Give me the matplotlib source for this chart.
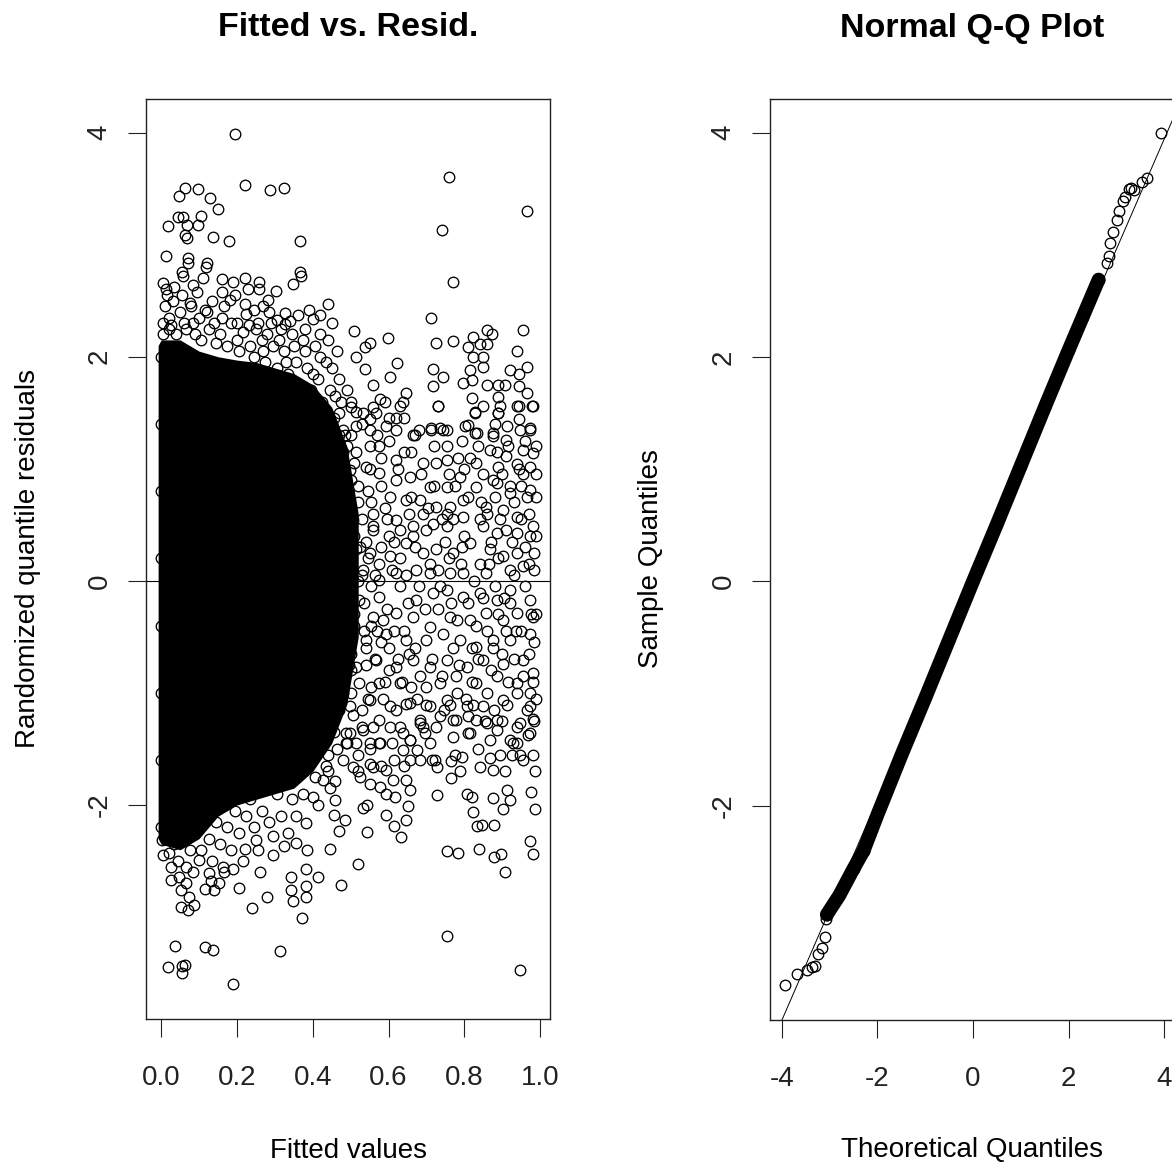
import numpy as np
import matplotlib.pyplot as plt

plt.rcParams['font.family'] = ['Liberation Sans', 'DejaVu Sans']

# ---- Fitted vs. Resid. ----
# envelope of the solid black mass of overlapping circles
core_x = [-0.008, 0.0, 0.05, 0.1, 0.15, 0.2, 0.25, 0.3, 0.35, 0.4, 0.45, 0.49, 0.52]
core_top = [2.1, 2.15, 2.15, 2.05, 2.0, 1.97, 1.95, 1.9, 1.85, 1.75, 1.55, 1.2, 0.6]
core_bot = [-2.3, -2.35, -2.4, -2.3, -2.1, -2.0, -1.95, -1.9, -1.85, -1.7, -1.45, -1.1, -0.5]

# circles above the mass
upper_pts = [
    (0.195, 3.99), (0.760, 3.60), (0.966, 3.30), (0.740, 3.13), (0.769, 2.67), (0.711, 2.35),
    (0.220, 3.53), (0.288, 3.49), (0.323, 3.51), (0.062, 3.51), (0.096, 3.50), (0.047, 3.43),
    (0.130, 3.42), (0.151, 3.32), (0.045, 3.25), (0.057, 3.25), (0.106, 3.26), (0.019, 3.17),
    (0.067, 3.18), (0.097, 3.18), (0.063, 3.09), (0.067, 3.06), (0.136, 3.07), (0.180, 3.03),
    (0.367, 3.03), (0.012, 2.90), (0.071, 2.88), (0.070, 2.84), (0.121, 2.84), (0.117, 2.80),
    (0.366, 2.76), (0.370, 2.72), (0.054, 2.76), (0.057, 2.72), (0.083, 2.64), (0.006, 2.66),
    (0.012, 2.60), (0.160, 2.69), (0.189, 2.67), (0.220, 2.70), (0.259, 2.67), (0.259, 2.60),
    (0.302, 2.59), (0.283, 2.51), (0.347, 2.65), (0.441, 2.47), (0.400, 2.34), (0.418, 2.37),
    (0.327, 2.39), (0.362, 2.37), (0.327, 2.29), (0.181, 2.51), (0.220, 2.47), (0.246, 2.42),
    (0.233, 2.28), (0.305, 2.33), (0.509, 2.23), (0.550, 2.12), (0.598, 2.17), (0.515, 2.00),
    (0.538, 2.09), (0.622, 1.94), (0.603, 1.82), (0.538, 1.89), (0.559, 1.75), (0.647, 1.68),
    (0.637, 1.60), (0.577, 1.62), (0.515, 1.51), (0.550, 1.44), (0.594, 1.38), (0.665, 1.30),
    (0.725, 2.12), (0.769, 2.14), (0.824, 2.18), (0.859, 2.24), (0.872, 2.20), (0.956, 2.24),
    (0.810, 2.09), (0.841, 2.11), (0.859, 2.11), (0.824, 2.00), (0.850, 2.00), (0.940, 2.05),
    (0.718, 1.89), (0.744, 1.82), (0.716, 1.74), (0.731, 1.56), (0.797, 1.77), (0.819, 1.79),
    (0.815, 1.88), (0.850, 1.91), (0.859, 1.75), (0.890, 1.75), (0.907, 1.75), (0.921, 1.88),
    (0.943, 1.85), (0.965, 1.91), (0.943, 1.74), (0.965, 1.68), (0.982, 1.56), (0.943, 1.56),
    (0.819, 1.63), (0.828, 1.51), (0.890, 1.64), (0.894, 1.56), (0.890, 1.50), (0.943, 1.44),
    (0.912, 1.38), (0.876, 1.32), (0.802, 1.38), (0.833, 1.32), (0.735, 1.36), (0.753, 1.35),
    (0.713, 1.36), (0.974, 1.36),
    (0.01, 2.45), (0.02, 2.35), (0.03, 2.50), (0.05, 2.40), (0.08, 2.45), (0.10, 2.35),
    (0.12, 2.40), (0.14, 2.30), (0.16, 2.35), (0.20, 2.30), (0.25, 2.25), (0.28, 2.20),
    (0.31, 2.15), (0.35, 2.10), (0.38, 2.05), (0.42, 2.00), (0.45, 1.90), (0.47, 1.80),
    (0.49, 1.70), (0.44, 2.15), (0.38, 2.25), (0.29, 2.30), (0.02, 2.25), (0.06, 2.30),
    (0.09, 2.20), (0.005, 2.30), (0.20, 2.15), (0.27, 2.05), (0.33, 1.95), (0.40, 1.85),
    (0.46, 1.65), (0.50, 1.55), (0.48, 1.35),
]

# fringe of tightly packed circles round the top of the mass
top_fringe_pts = [
    (0.005, 2.20), (0.015, 2.55), (0.025, 2.28), (0.035, 2.62), (0.040, 2.20), (0.055, 2.55),
    (0.065, 2.25), (0.075, 2.48), (0.085, 2.30), (0.095, 2.58), (0.105, 2.15), (0.115, 2.42),
    (0.125, 2.25), (0.135, 2.50), (0.145, 2.12), (0.155, 2.20), (0.165, 2.45), (0.175, 2.10),
    (0.185, 2.30), (0.195, 2.55), (0.205, 2.05), (0.215, 2.22), (0.225, 2.38), (0.235, 2.10),
    (0.245, 2.00), (0.255, 2.30), (0.265, 2.15), (0.275, 1.95), (0.285, 2.40), (0.295, 2.10),
    (0.305, 1.90), (0.315, 2.25), (0.325, 2.05), (0.335, 1.85), (0.345, 2.20), (0.355, 1.95),
    (0.365, 1.75), (0.375, 2.15), (0.385, 1.90), (0.395, 1.70), (0.405, 2.10), (0.415, 1.80),
    (0.425, 1.60), (0.435, 1.95), (0.445, 1.70), (0.455, 1.45), (0.465, 2.05), (0.475, 1.60),
    (0.485, 1.30), (0.390, 2.42), (0.340, 2.32), (0.270, 2.45), (0.230, 2.60), (0.160, 2.58),
    (0.110, 2.70), (0.450, 2.30), (0.420, 2.20),
]

# fringe of tightly packed circles right of the mass
right_fringe_pts = [
    (0.455, 1.20), (0.470, 0.95), (0.480, 1.15), (0.500, 1.30), (0.510, 1.05), (0.520, 0.85),
    (0.490, 0.65), (0.510, 0.40), (0.500, 0.20), (0.520, 0.00), (0.490, -0.15), (0.510, -0.30),
    (0.490, -0.55), (0.500, -0.80), (0.480, -1.00), (0.470, -1.15), (0.455, -1.35), (0.440, -1.55),
    (0.530, 0.55), (0.545, 0.80), (0.550, 1.00), (0.560, 0.45), (0.545, 0.20), (0.555, -0.05),
    (0.535, -0.20), (0.555, -0.40), (0.540, -0.75), (0.555, -0.95), (0.530, -1.30), (0.515, -1.45),
    (0.580, 1.10), (0.590, 0.65), (0.600, 0.40), (0.575, 0.15), (0.595, -0.25), (0.580, -0.55),
    (0.600, -0.80), (0.585, -1.05), (0.575, -1.45), (0.620, 0.90), (0.630, 0.20), (0.640, -0.45),
    (0.625, -0.70), (0.645, -1.10), (0.655, 0.60), (0.660, 1.15), (0.615, -1.60), (0.600, 1.45),
    (0.570, 1.30), (0.640, 1.45),
]

# fringe of tightly packed circles under the mass
bottom_fringe_pts = [
    (0.005, -2.45), (0.015, -2.20), (0.025, -2.55), (0.035, -2.35), (0.045, -2.50), (0.055, -2.25),
    (0.065, -2.70), (0.075, -2.40), (0.085, -2.60), (0.095, -2.20), (0.105, -2.40), (0.115, -2.75),
    (0.125, -2.30), (0.135, -2.50), (0.145, -2.15), (0.155, -2.35), (0.165, -2.60), (0.175, -2.20),
    (0.185, -2.40), (0.195, -2.05), (0.205, -2.25), (0.215, -2.50), (0.225, -2.10), (0.235, -1.95),
    (0.245, -2.20), (0.255, -2.40), (0.265, -2.05), (0.275, -1.85), (0.285, -2.15), (0.295, -2.45),
    (0.305, -1.90), (0.315, -2.10), (0.325, -1.75), (0.335, -2.25), (0.345, -1.95), (0.355, -2.10),
    (0.365, -1.70), (0.375, -1.90), (0.385, -2.40), (0.395, -1.55), (0.405, -1.75), (0.415, -2.00),
    (0.425, -1.45), (0.435, -1.65), (0.445, -1.85), (0.455, -1.20), (0.465, -1.50),
]

# circles in the spread-out middle band
middle_pts = [
    (0.731, 1.56), (0.828, 1.50), (0.850, 1.56), (0.889, 1.50), (0.938, 1.56), (0.978, 1.56),
    (0.532, 1.50), (0.567, 1.50), (0.629, 1.56), (0.515, 1.38), (0.550, 1.35), (0.620, 1.35),
    (0.669, 1.30), (0.713, 1.35), (0.744, 1.35), (0.810, 1.39), (0.828, 1.32), (0.876, 1.29),
    (0.911, 1.26), (0.947, 1.35), (0.973, 1.35), (0.867, 1.17), (0.911, 1.11), (0.955, 1.17),
    (0.982, 1.14), (0.753, 1.08), (0.784, 1.10), (0.832, 1.05), (0.889, 1.02), (0.938, 1.04),
    (0.973, 1.02), (0.470, 1.02), (0.497, 0.99), (0.541, 1.02), (0.576, 0.96), (0.620, 1.08),
    (0.656, 0.93), (0.709, 0.84), (0.753, 0.84), (0.788, 0.93), (0.832, 0.84), (0.885, 0.87),
    (0.920, 0.78), (0.973, 0.81), (0.603, 0.75), (0.647, 0.72), (0.682, 0.72), (0.726, 0.66),
    (0.761, 0.66), (0.797, 0.72), (0.858, 0.66), (0.903, 0.63), (0.938, 0.57), (0.982, 0.49),
    (0.973, 0.40), (0.506, 0.54), (0.559, 0.49), (0.620, 0.54), (0.664, 0.49), (0.717, 0.51),
    (0.753, 0.49), (0.797, 0.57), (0.850, 0.49), (0.885, 0.43), (0.938, 0.43), (0.462, 0.31),
    (0.515, 0.28), (0.550, 0.25), (0.603, 0.22), (0.647, 0.34), (0.691, 0.25), (0.726, 0.28),
    (0.770, 0.25), (0.814, 0.34), (0.867, 0.28), (0.903, 0.22), (0.938, 0.25), (0.955, 0.13),
    (0.920, 0.10), (0.858, 0.07), (0.797, 0.07), (0.761, 0.07), (0.709, 0.07), (0.673, 0.10),
    (0.620, 0.07), (0.576, 0.01), (0.532, 0.10), (0.488, 0.13), (0.470, -0.11), (0.523, -0.17),
    (0.576, -0.14), (0.629, -0.05), (0.673, -0.17), (0.717, -0.11), (0.753, -0.08), (0.797, -0.14),
    (0.841, -0.11), (0.885, -0.17), (0.920, -0.08), (0.973, -0.17), (0.982, -0.32), (0.938, -0.29),
    (0.903, -0.35), (0.858, -0.29), (0.814, -0.35), (0.761, -0.32), (0.709, -0.41), (0.664, -0.32),
    (0.620, -0.29), (0.559, -0.32), (0.497, -0.35), (0.479, -0.53), (0.541, -0.53), (0.594, -0.47),
    (0.647, -0.53), (0.700, -0.53), (0.744, -0.47), (0.788, -0.53), (0.832, -0.59), (0.876, -0.53),
    (0.920, -0.53), (0.973, -0.47), (0.462, -0.71), (0.515, -0.77), (0.567, -0.71), (0.620, -0.77),
    (0.664, -0.71), (0.709, -0.77), (0.753, -0.71), (0.806, -0.77), (0.850, -0.71), (0.903, -0.74),
    (0.955, -0.71), (0.982, -0.82), (0.938, -0.91), (0.885, -0.85), (0.832, -0.91), (0.779, -0.85),
    (0.735, -0.91), (0.682, -0.85), (0.629, -0.91), (0.576, -0.91), (0.523, -0.91), (0.479, -0.97),
    (0.497, -1.12), (0.550, -1.06), (0.603, -1.12), (0.656, -1.09), (0.709, -1.12), (0.753, -1.06),
    (0.806, -1.12), (0.850, -1.12), (0.903, -1.06), (0.973, -1.00), (0.964, -1.15), (0.938, -1.30),
    (0.885, -1.24), (0.832, -1.24), (0.779, -1.24), (0.726, -1.30), (0.682, -1.24), (0.629, -1.30),
    (0.576, -1.24), (0.532, -1.33), (0.488, -1.36), (0.656, -1.42), (0.709, -1.45), (0.814, -1.36),
    (0.867, -1.42), (0.920, -1.42), (0.973, -1.36),
    (0.45, 1.40), (0.47, 1.30), (0.49, 1.20), (0.46, 1.10), (0.50, 0.90), (0.48, 0.80),
    (0.52, 0.70), (0.47, 0.60), (0.50, 0.45), (0.54, 0.35), (0.49, 0.20), (0.46, 0.00),
    (0.50, -0.05), (0.53, 0.05), (0.48, -0.25), (0.51, -0.40), (0.46, -0.50), (0.50, -0.65),
    (0.54, -0.60), (0.47, -0.85), (0.50, -1.00), (0.53, -1.15), (0.46, -1.20), (0.49, -1.45),
    (0.52, -1.55), (0.56, -1.30), (0.56, 0.60), (0.58, 0.30), (0.57, -0.45), (0.59, -0.90),
    (0.55, 1.20), (0.60, 1.25), (0.58, 0.85), (0.61, 0.10), (0.60, -0.60),
    (0.86, 0.60), (0.88, 0.75), (0.90, 0.95), (0.93, 0.70), (0.95, 0.85), (0.97, 0.60),
    (0.99, 0.75), (0.99, 0.40), (0.96, 0.30), (0.91, 0.45), (0.87, 0.35), (0.84, 0.15),
    (0.88, -0.05), (0.92, -0.20), (0.96, -0.05), (0.99, -0.30), (0.985, 0.10), (0.95, -0.45),
    (0.90, -0.65), (0.86, -0.45), (0.82, -0.60), (0.78, -0.35), (0.80, 0.40), (0.76, 0.20),
    (0.74, 0.55), (0.70, 0.45), (0.68, -0.05), (0.65, -0.20), (0.63, 0.45), (0.66, 0.75),
    (0.69, 1.05), (0.72, 1.20),
    (0.67, 0.30), (0.69, 0.60), (0.71, 0.15), (0.73, -0.25), (0.75, 0.35), (0.77, -0.60),
    (0.79, 0.15), (0.81, 0.75), (0.83, -0.40), (0.85, 0.95), (0.87, -0.80), (0.89, 0.20),
    (0.91, -0.45), (0.93, 0.05), (0.95, 0.55), (0.97, -0.65), (0.99, 0.95), (0.98, -0.90),
    (0.96, 1.25), (0.94, -1.00), (0.92, 0.85), (0.90, -1.25), (0.88, 1.40), (0.86, -1.00),
    (0.84, 0.55), (0.82, -0.90), (0.80, 1.00), (0.78, -1.00), (0.76, 0.95), (0.74, -0.85),
    (0.72, 0.85), (0.70, -0.95), (0.68, 1.35), (0.66, -0.95), (0.64, 1.15), (0.62, -1.15),
    (0.67, -0.60), (0.69, -1.30), (0.73, 0.10), (0.77, 0.55), (0.81, -0.20), (0.85, -0.15),
    (0.89, -0.30), (0.93, -0.70), (0.97, 0.15), (0.985, -0.55), (0.955, 0.95), (0.915, 1.20),
    (0.875, 0.90), (0.835, 1.20), (0.795, 1.25), (0.755, 1.20), (0.715, -1.60), (0.775, -1.55),
    (0.835, -1.50), (0.895, -1.55), (0.955, -1.60), (0.985, -1.25),
]

# more circles packed into the middle band
middle_extra_pts = [
    (0.455, 0.85), (0.465, 0.45), (0.475, 0.10), (0.485, -0.40), (0.495, -0.75), (0.505, -1.20),
    (0.515, 1.15), (0.525, 0.30), (0.535, -0.45), (0.545, -1.05), (0.555, 0.70), (0.565, 0.05),
    (0.565, -0.70), (0.575, 1.20), (0.585, -0.35), (0.595, 0.55), (0.605, -1.30), (0.615, 0.35),
    (0.615, -0.45), (0.625, 1.00), (0.635, -0.90), (0.645, 0.05), (0.655, -0.65), (0.665, 0.40),
    (0.675, -1.05), (0.685, 0.95), (0.695, -0.25), (0.705, 0.65), (0.715, -0.70), (0.725, 1.05),
    (0.735, -0.05), (0.745, -1.15), (0.755, 0.60), (0.765, -0.20), (0.775, 0.85), (0.785, -0.75),
    (0.795, 0.30), (0.805, -1.05), (0.815, 1.10), (0.825, 0.00), (0.835, -0.70), (0.845, 0.70),
    (0.855, -1.25), (0.865, 0.15), (0.875, -0.60), (0.885, 1.15), (0.895, 0.55), (0.905, -0.15),
    (0.915, -0.90), (0.925, 0.35), (0.935, -0.45), (0.945, 1.00), (0.955, -0.85), (0.965, 0.75),
    (0.975, -0.30), (0.985, 0.25), (0.990, -1.05), (0.990, 1.20),
    (0.47, 1.50), (0.50, 1.60), (0.53, 1.40), (0.56, 1.55), (0.59, 1.60), (0.62, 1.45),
    (0.52, -1.70), (0.55, -1.50), (0.58, -1.65), (0.61, -1.45), (0.64, -1.65), (0.44, -1.70),
    (0.48, -1.60),
]

# circles below the mass
lower_pts = [
    (0.755, -3.17), (0.947, -3.47), (0.037, -3.26), (0.116, -3.27), (0.136, -3.29), (0.313, -3.30),
    (0.018, -3.45), (0.056, -3.44), (0.063, -3.43), (0.055, -3.50), (0.190, -3.60), (0.907, -2.60),
    (0.877, -2.46), (0.897, -2.44), (0.839, -2.39), (0.754, -2.41), (0.784, -2.43), (0.972, -2.32),
    (0.982, -2.44), (0.519, -2.53), (0.474, -2.71), (0.372, -3.01), (0.239, -2.92), (0.278, -2.82),
    (0.205, -2.74), (0.343, -2.76), (0.347, -2.86), (0.383, -2.82), (0.383, -2.72), (0.415, -2.64),
    (0.383, -2.57), (0.343, -2.64), (0.262, -2.60), (0.052, -2.91), (0.070, -2.94), (0.087, -2.89),
    (0.026, -2.67), (0.052, -2.76), (0.131, -2.68), (0.153, -2.70), (0.140, -2.76), (0.190, -2.57),
    (0.162, -2.55), (0.446, -2.39), (0.469, -2.23), (0.456, -2.09), (0.460, -1.96), (0.484, -2.13),
    (0.544, -2.24), (0.594, -2.09), (0.615, -2.19), (0.632, -2.29), (0.647, -2.13), (0.652, -2.01),
    (0.656, -1.87), (0.533, -2.03), (0.544, -2.00), (0.729, -1.91), (0.822, -2.06), (0.833, -2.19),
    (0.846, -2.18), (0.878, -2.18), (0.976, -1.88), (0.987, -2.04), (0.903, -2.04), (0.921, -1.96),
    (0.876, -1.94), (0.764, -1.76), (0.788, -1.70), (0.766, -1.61), (0.793, -1.57), (0.806, -1.90),
    (0.819, -1.93), (0.722, -1.60), (0.727, -1.66), (0.696, -1.36), (0.683, -1.27), (0.769, -1.39),
    (0.810, -1.36), (0.841, -1.66), (0.868, -1.58), (0.876, -1.69), (0.907, -1.70), (0.912, -1.87),
    (0.938, -1.45), (0.925, -1.55), (0.947, -1.55), (0.947, -1.27), (0.969, -1.38), (0.982, -1.55),
    (0.987, -1.70), (0.974, -1.12), (0.982, -1.23), (0.594, -1.90), (0.616, -1.93), (0.612, -1.78),
    (0.647, -1.78), (0.594, -1.69), (0.559, -1.66), (0.524, -1.75), (0.550, -1.81), (0.577, -1.84),
    (0.674, -1.51), (0.683, -1.60), (0.656, -1.60), (0.638, -1.51), (0.656, -1.42), (0.638, -1.36),
    (0.506, -1.66), (0.550, -1.63), (0.577, -1.45), (0.550, -1.45), (0.489, -1.45), (0.497, -1.36),
    (0.458, -1.79), (0.427, -1.78), (0.400, -1.93), (0.383, -2.16), (0.356, -2.34), (0.325, -2.37),
    (0.294, -2.28), (0.250, -2.31), (0.220, -2.39), (0.127, -2.61), (0.101, -2.49), (0.065, -2.55),
    (0.021, -2.43), (0.003, -2.31), (0.048, -2.64), (0.074, -2.82), (0.700, -1.11), (0.762, -1.11),
    (0.824, -1.11), (0.877, -1.15), (0.912, -1.11), (0.810, -1.21), (0.735, -1.21), (0.771, -1.24),
    (0.859, -1.27), (0.885, -1.33), (0.929, -1.45),
]

# circles along the left edge of the mass
edge_pts = [
    (0.0, -2.2), (0.0, -1.6), (0.0, -1.0), (0.0, -0.4), (0.0, 0.2), (0.0, 0.8),
    (0.0, 1.4), (0.0, 2.0),
]

fit_ticks = [0.0, 0.2, 0.4, 0.6, 0.8, 1.0]
fit_ticklabels = ['0.0', '0.2', '0.4', '0.6', '0.8', '1.0']
res_ticks = [-2, 0, 2, 4]

# ---- Normal Q-Q Plot ----
qq_low_theo = [-3.93, -3.68, -3.48, -3.38, -3.31, -3.24, -3.17, -3.10, -3.08]
qq_low_samp = [-3.60, -3.50, -3.46, -3.44, -3.43, -3.32, -3.27, -3.17, -3.01]
qq_high_theo = [2.80, 2.84, 2.87, 2.94, 3.01, 3.05, 3.15, 3.19, 3.26, 3.30, 3.37, 3.54, 3.65, 3.93]
qq_high_samp = [2.84, 2.90, 3.02, 3.11, 3.22, 3.30, 3.39, 3.43, 3.50, 3.51, 3.49, 3.56, 3.60, 4.00]
qq_band_theo = [-3.06, -2.8, -2.5, -2.29, -2.0, -1.5, -1.0, -0.5, 0.0, 0.5, 1.0, 1.5, 2.0, 2.3, 2.63]
qq_band_samp = [-2.97, -2.80, -2.56, -2.40, -2.08, -1.55, -1.04, -0.52, 0.0, 0.51, 1.03, 1.55, 2.06, 2.36, 2.69]
qq_line_theo = [-4.01, 4.00]
qq_line_samp = [-3.92, 3.94]
qq_xticks = [-4, -2, 0, 2, 4]

W, H = 1172, 1165
fig = plt.figure(figsize=(W / 100, H / 100), dpi=100)

marker_kw = dict(linestyle='none', marker='o', markersize=7.6, markerfacecolor='none',
                 markeredgecolor='black', markeredgewidth=0.95)


def style_axes(ax):
    for sp in ax.spines.values():
        sp.set_linewidth(1.0)
        sp.set_color('#222222')
    ax.tick_params(direction='out', length=13, width=0.8, labelsize=20, colors='#222222')
    ax.tick_params(axis='x', pad=20)
    ax.tick_params(axis='y', pad=11, labelrotation=90)
    for lab in ax.get_yticklabels():
        lab.set_va('center')


ax1 = fig.add_axes([146 / W, 1 - 1019 / H, 404 / W, 920 / H])
ax1.fill_between(core_x, core_bot, core_top, color='black', linewidth=0)
for pts in (upper_pts, top_fringe_pts, right_fringe_pts, bottom_fringe_pts,
            middle_pts, middle_extra_pts, lower_pts, edge_pts):
    arr = np.array(pts)
    ax1.plot(arr[:, 0], arr[:, 1], **marker_kw)
ax1.axhline(0, color='black', lw=0.8)
ax1.set_xlim(-0.040, 1.026)
ax1.set_ylim(-3.91, 4.30)
ax1.set_xticks(fit_ticks, fit_ticklabels)
ax1.set_yticks(res_ticks, [str(t) for t in res_ticks])
style_axes(ax1)

ax2 = fig.add_axes([770 / W, 1 - 1020 / H, 406 / W, 921 / H])
ax2.plot(qq_band_theo, qq_band_samp, color='black', lw=10, solid_capstyle='round')
ax2.plot(qq_low_theo, qq_low_samp, **marker_kw)
ax2.plot(qq_high_theo, qq_high_samp, **marker_kw)
ax2.plot(qq_band_theo, qq_band_samp, **marker_kw)
ax2.axline((qq_line_theo[0], qq_line_samp[0]), (qq_line_theo[1], qq_line_samp[1]),
          color='black', lw=0.7)
ax2.set_xlim(-4.25, 4.25)
ax2.set_ylim(-3.91, 4.30)
ax2.set_xticks(qq_xticks, [str(t) for t in qq_xticks])
ax2.set_yticks(res_ticks, [str(t) for t in res_ticks])
style_axes(ax2)

# titles and axis labels
fig.text(348 / W, 1 - 28 / H, 'Fitted vs. Resid.', ha='center', va='center',
         fontsize=24.5, fontweight='bold')
fig.text(972 / W, 1 - 28 / H, 'Normal Q-Q Plot', ha='center', va='center',
         fontsize=24.5, fontweight='bold')
fig.text(348 / W, 1 - 1158 / H, 'Fitted values', ha='center', va='baseline', fontsize=20)
fig.text(972 / W, 1 - 1157 / H, 'Theoretical Quantiles', ha='center', va='baseline', fontsize=20)
fig.text(28 / W, 1 - 559 / H, 'Randomized quantile residuals', ha='center', va='center',
         rotation=90, fontsize=20)
fig.text(651 / W, 1 - 559 / H, 'Sample Quantiles', ha='center', va='center',
         rotation=90, fontsize=20)

fig.savefig('out.png', dpi=100)
